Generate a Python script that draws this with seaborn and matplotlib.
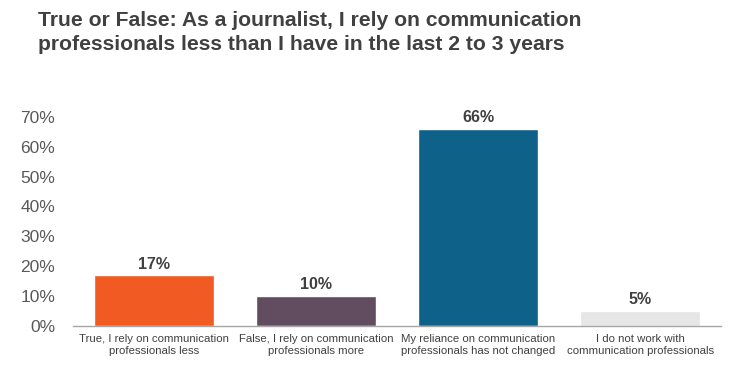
import matplotlib
matplotlib.use("Agg")
import matplotlib.pyplot as plt
import seaborn as sns
import pandas as pd

# Data
categories = [
    "True, I rely on communication\nprofessionals less",
    "False, I rely on communication\nprofessionals more",
    "My reliance on communication\nprofessionals has not changed",
    "I do not work with\ncommunication professionals",
]
values = [0.17, 0.10, 0.66, 0.05]
bar_colors = ["#F15A22", "#624C5F", "#0E6188", "#E6E6E6"]
yticks = [0, 0.1, 0.2, 0.3, 0.4, 0.5, 0.6, 0.7]

df = pd.DataFrame({"category": categories, "value": values})

sns.set_style("white")
plt.rcParams["font.family"] = ["Liberation Sans", "DejaVu Sans"]

fig = plt.figure(figsize=(7.39, 3.72), dpi=100)
ax = fig.add_axes([0.099, 0.124, 0.877, 0.562])

sns.barplot(data=df, x="category", y="value", hue="category", palette=bar_colors,
            width=0.74, legend=False, ax=ax, saturation=1)

ax.set_ylim(0, 0.7)
ax.set_yticks(yticks)
ax.set_yticklabels([f"{int(round(t*100))}%" for t in yticks], fontsize=12.5, color="#595959")
ax.tick_params(axis="y", length=0, pad=13)
ax.tick_params(axis="x", length=0, pad=6)
for lab in ax.get_xticklabels():
    lab.set_fontsize(8.2)
    lab.set_color("#404040")
ax.set_xlabel("")
ax.set_ylabel("")

for s in ["top", "right", "left"]:
    ax.spines[s].set_visible(False)
ax.spines["bottom"].set_color("#A6A6A6")
ax.spines["bottom"].set_linewidth(1)

for i, v in enumerate(values):
    ax.text(i, v + 0.012, f"{int(round(v*100))}%", ha="center", va="bottom",
            fontsize=11.5, fontweight="bold", color="#404040")

fig.text(0.051, 0.97,
         "True or False: As a journalist, I rely on communication\n"
         "professionals less than I have in the last 2 to 3 years",
         ha="left", va="top", fontsize=15.2, fontweight="bold", color="#404040",
         linespacing=1.3)

fig.savefig("out.png", dpi=100)
